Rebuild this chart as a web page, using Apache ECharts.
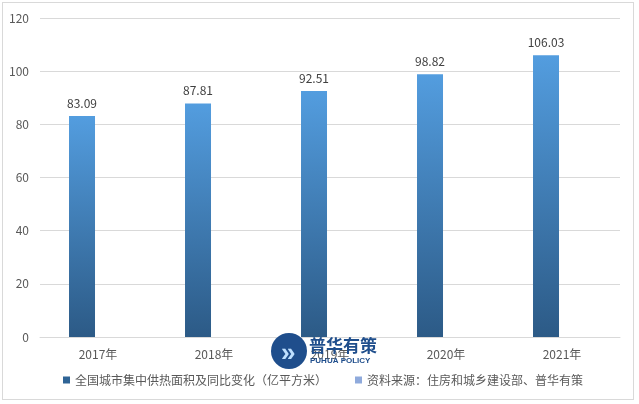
<!DOCTYPE html>
<html><head><meta charset="utf-8">
<script src="https://cdn.jsdelivr.net/npm/echarts@6/dist/echarts.min.js"></script>
<style>
html,body{margin:0;padding:0;background:#fff;}
#frame{position:absolute;left:2px;top:2px;width:632px;height:398px;border:1px solid #d9d9d9;box-sizing:border-box;}
#c{position:absolute;left:0;top:0;width:639px;height:404px;}
</style></head>
<body><div id="frame"></div><div id="c"></div>
<script>
const categories = ['2017年','2018年','2019年','2020年','2021年'];
const areaValues = [83.09, 87.81, 92.51, 98.82, 106.03];
const yTicks = [0, 20, 40, 60, 80, 100, 120];
const seriesName1 = '全国城市集中供热面积及同比变化（亿平方米）';
const seriesName2 = '资料来源：住房和城乡建设部、普华有策';

const chart = echarts.init(document.getElementById('c'), null, {renderer:'canvas'});
const font = 'Microsoft YaHei, "Noto Sans CJK SC", sans-serif';
chart.setOption({
  animation:false,
  grid:{left:40, right:19, top:18, bottom:67},
  legend:{
    bottom:13, left:58, itemWidth:7, itemHeight:7, itemGap:28,
    icon:'rect',
    textStyle:{fontSize:12, color:'#595959', fontFamily:font},
    data:[{name:seriesName1, itemStyle:{color:'#2f6496'}},{name:seriesName2, itemStyle:{color:'#8faadc'}}]
  },
  xAxis:{
    type:'category', data:categories,
    axisLine:{lineStyle:{color:'#d9d9d9'}},
    axisTick:{show:false},
    axisLabel:{color:'#595959', fontSize:12, margin:11, fontFamily:font}
  },
  yAxis:{
    type:'value', min:yTicks[0], max:yTicks[yTicks.length-1], interval:20,
    axisLine:{show:false}, axisTick:{show:false},
    splitLine:{lineStyle:{color:'#d9d9d9'}},
    axisLabel:{color:'#595959', fontSize:12, margin:11, fontFamily:font}
  },
  series:[
    {name:seriesName1, type:'bar', data:areaValues, barWidth:26, barGap:'23%',
     itemStyle:{color:new echarts.graphic.LinearGradient(0,0,0,1,[{offset:0,color:'#539ddf'},{offset:1,color:'#2c5a86'}])},
     label:{show:true, position:'top', distance:7, color:'#404040', fontSize:12, fontFamily:font}},
    {name:seriesName2, type:'bar', data:[], barWidth:26, itemStyle:{color:'#8faadc'}}
  ],
  graphic:[
    {type:'circle', shape:{cx:289, cy:351, r:18}, style:{fill:'#1f4e8c'}, z:100},
    {type:'text', left:281, top:341, style:{text:'»', fill:'#bfe0ff', font:'bold 26px sans-serif'}, z:101},
    {type:'text', left:309, top:337, style:{text:'普华有策', fill:'#1f4e8c', font:'bold 17px "Noto Sans CJK SC", sans-serif'}, z:101},
    {type:'text', left:310, top:357, style:{text:'PUHUA POLICY', fill:'#1f4e8c', font:'bold 8px sans-serif'}, z:101}
  ]
});
</script></body></html>
